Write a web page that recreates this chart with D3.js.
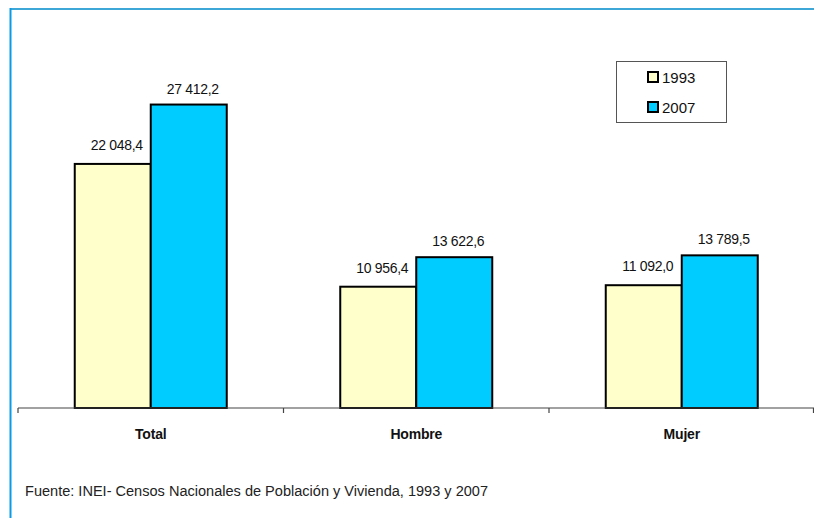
<!DOCTYPE html>
<html><head><meta charset="utf-8">
<script src="https://cdn.jsdelivr.net/npm/d3@7"></script>
<style>body{margin:0;background:#fff;}svg{display:block;font-family:Arial,"Liberation Sans",sans-serif;}</style>
</head><body>
<svg id="c" width="814" height="518"></svg>
<script>
const categories = ["Total", "Hombre", "Mujer"];
const years = ["1993", "2007"];
const values1993 = [22048.4, 10956.4, 11092.0];
const values2007 = [27412.2, 13622.6, 13789.5];
const labels1993 = ["22 048,4", "10 956,4", "11 092,0"];
const labels2007 = ["27 412,2", "13 622,6", "13 789,5"];
const colors = ["#ffffcc", "#00ccff"];
const source = "Fuente: INEI- Censos Nacionales de Población y Vivienda, 1993 y 2007";

const svg = d3.select("#c");
// frame lines
svg.append("line").attr("x1",10.5).attr("x2",814).attr("y1",9).attr("y2",9).attr("stroke","#3fa6d8").attr("stroke-width",2);
svg.append("line").attr("x1",10.5).attr("x2",10.5).attr("y1",8).attr("y2",518).attr("stroke","#0a9be6").attr("stroke-width",2);

const x0 = d3.scaleBand().domain(categories).range([18, 814.5]).paddingInner(0).paddingOuter(0);
const x1 = d3.scaleBand().domain(years).range([0, 152]);
const y = d3.scaleLinear().domain([0, 30000]).range([408, 75.9]);

const series = [values1993, values2007];
const labs = [labels1993, labels2007];
const labelGap = [14, 11];
const g = svg.append("g");
categories.forEach((c, i) => {
  const gx = x0(c) + (x0.bandwidth() - 152) / 2;
  years.forEach((yr, j) => {
    const v = series[j][i];
    g.append("rect").attr("x", gx + x1(yr)).attr("y", y(v))
      .attr("width", x1.bandwidth()).attr("height", y(0) - y(v))
      .attr("fill", colors[j]).attr("stroke", "#000").attr("stroke-width", 2);
    g.append("text").attr("x", gx + x1(yr) + x1.bandwidth()/2 + 4).attr("y", y(v) - labelGap[j])
      .attr("text-anchor","middle").attr("font-size","14px").attr("letter-spacing","-0.3px")
      .attr("fill","#111").text(labs[j][i]);
  });
});

// axis
const ax = svg.append("g").attr("transform","translate(0,408)");
ax.append("line").attr("x1",18).attr("x2",814).attr("stroke","#444").attr("stroke-width",1.2);
const tickPos = categories.map(c => x0(c)).concat([x0.range()[1] - 1]);
tickPos.forEach(t => ax.append("line").attr("x1",t).attr("x2",t).attr("y1",0).attr("y2",5).attr("stroke","#444").attr("stroke-width",1.2));
categories.forEach(c => ax.append("text").attr("x", x0(c)+x0.bandwidth()/2).attr("y",30.5)
  .attr("text-anchor","middle").attr("font-size","14px").attr("letter-spacing","-0.2px")
  .attr("font-weight","bold").attr("fill","#111").text(c));

// legend
const lg = svg.append("g");
lg.append("rect").attr("x",616.5).attr("y",61.5).attr("width",110).attr("height",61).attr("fill","#fff").attr("stroke","#555").attr("stroke-width",1);
years.forEach((yr, j) => {
  const yy = 72 + j*30;
  lg.append("rect").attr("x",648).attr("y",yy).attr("width",10).attr("height",10).attr("fill",colors[j]).attr("stroke","#000").attr("stroke-width",2);
  lg.append("text").attr("x",662).attr("y",yy+11).attr("font-size","15px").attr("fill","#111").text(yr);
});

svg.append("text").attr("x",25).attr("y",496).attr("font-size","14px")
  .attr("textLength",463).attr("lengthAdjust","spacingAndGlyphs")
  .attr("fill","#222").text(source);
</script>
</body></html>
